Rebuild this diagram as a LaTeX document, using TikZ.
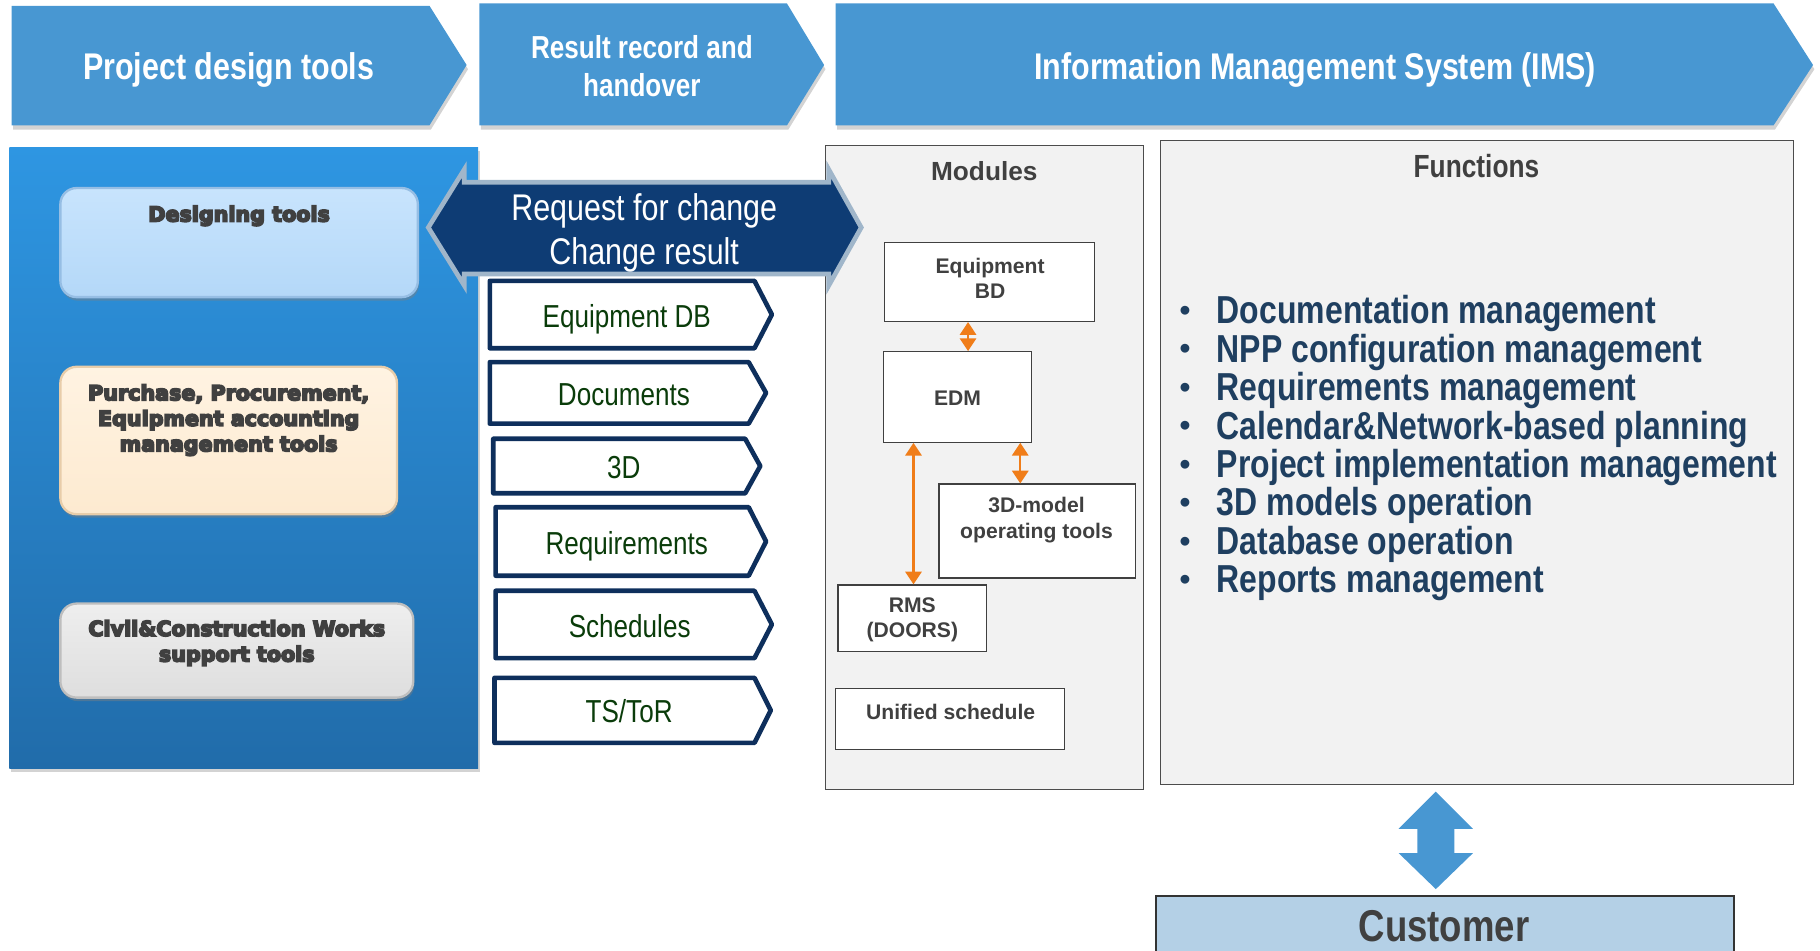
\documentclass[tikz,border=0pt]{standalone}
\usepackage{fontspec}
\setmainfont{Liberation Sans}
\newfontfamily\narrow{Liberation Sans}[FakeStretch=0.82]
\newfontfamily\heavy{DejaVu Sans Bold}[FakeBold=8]
\usetikzlibrary{shadows,arrows.meta,calc,fit}
\definecolor{hdrblue}{RGB}{72,151,210}
\definecolor{pantop}{RGB}{46,150,226}
\definecolor{panbot}{RGB}{33,108,170}
\definecolor{dsgtop}{RGB}{200,228,253}
\definecolor{dsgbot}{RGB}{180,216,248}
\definecolor{dsgedge}{RGB}{150,190,228}
\definecolor{purtop}{RGB}{255,243,226}
\definecolor{purbot}{RGB}{253,234,208}
\definecolor{puredge}{RGB}{232,205,170}
\definecolor{civtop}{RGB}{238,238,238}
\definecolor{civbot}{RGB}{222,222,222}
\definecolor{civedge}{RGB}{190,190,190}
\definecolor{navy}{RGB}{14,60,116}
\definecolor{navyedge}{RGB}{160,182,202}
\definecolor{tagnavy}{RGB}{14,47,92}
\definecolor{taggreen}{RGB}{10,60,10}
\definecolor{txtgray}{RGB}{64,64,64}
\definecolor{panelgray}{RGB}{242,242,242}
\definecolor{orng}{RGB}{240,125,25}
\definecolor{funblue}{RGB}{31,63,96}
\definecolor{custblue}{RGB}{180,208,230}
\begin{document}
\begin{tikzpicture}[x=0.5pt,y=-0.5pt,
  hdr/.style={fill=hdrblue, drop shadow={shadow xshift=0.6pt, shadow yshift=-1.8pt, opacity=0.35}},
  hdrtxt/.style={text=white, align=center, font=\narrow\bfseries\fontsize{16}{19}\selectfont},
  toolbox/.style={inner sep=0pt, rounded corners=7pt, line width=1pt, drop shadow={shadow xshift=0.5pt, shadow yshift=-1.5pt, opacity=0.45}},
  tooltxt/.style={text=txtgray, align=center, font=\heavy\fontsize{8.9}{11}\selectfont},
  dblarr/.style={fill=navy, draw=navyedge, line width=2pt},
  dbltxt/.style={text=white, align=center, font=\narrow\fontsize{16}{19}\selectfont},
  tagbox/.style={draw=tagnavy, fill=white, line width=2pt, line join=round},
  tagtxt/.style={text=taggreen, text height=9.8pt, text depth=0pt, font=\narrow\fontsize{13.7}{16}\selectfont},
  panelbox/.style={inner sep=0pt, fill=panelgray, draw=black!70, line width=0.5pt},
  ptitle/.style={text=txtgray, font=\bfseries\fontsize{11.3}{13}\selectfont},
  ftitle/.style={text=txtgray, font=\narrow\bfseries\fontsize{13.8}{16}\selectfont},
  modbox/.style={inner sep=0pt, fill=white, draw=black!75, line width=0.5pt},
  modtxt/.style={text=txtgray, align=center, font=\bfseries\fontsize{9.1}{11}\selectfont},
  oarr/.style={draw=orng, line width=1pt, {Triangle[width=7pt,length=5.5pt]}-{Triangle[width=7pt,length=5.5pt]}},
  fitem/.style={text=funblue, font=\narrow\bfseries\fontsize{16.8}{19}\selectfont},
  fbul/.style={text=funblue, font=\fontsize{14}{16}\selectfont},
  custtxt/.style={text=txtgray, inner sep=0pt, font=\narrow\bfseries\fontsize{19.2}{22}\selectfont}
]
\useasboundingbox (0,0) rectangle (1568,819);
\clip (0,0) rectangle (1568,819);

% header chevrons
\fill[hdr] (10,5) -- (370,5) -- (402,56) -- (370,108) -- (10,108) -- cycle;
\node[hdrtxt] (h1) at (197,60) {Project design tools};
\fill[hdr] (413,3) -- (678,3) -- (710,56) -- (678,108) -- (413,108) -- cycle;
\node[hdrtxt, font=\narrow\bfseries\fontsize{13.7}{16.5}\selectfont] (h2) at (553,57) {Result record and\\handover};
\fill[hdr] (720,3) -- (1528,3) -- (1562,56) -- (1528,108) -- (720,108) -- cycle;
\node[hdrtxt] (h3) at (1133,60) {Information Management System (IMS)};

% left panel
\node[fit={(8,127) (412,662)}, inner sep=0pt, top color=pantop, bottom color=panbot,
      drop shadow={shadow xshift=0.6pt, shadow yshift=-1.5pt, opacity=0.35}] (panel) {};
\node[toolbox, fit={(52,162) (360,256)}, top color=dsgtop, bottom color=dsgbot, draw=dsgedge] (dsg) {};
\node[tooltxt] (dsgt) at (206,186) {Designing tools};
\node[toolbox, fit={(52,316) (342,443)}, top color=purtop, bottom color=purbot, draw=puredge] (pur) {};
\node[tooltxt] (purt) at (197,362) {Purchase, Procurement,\\Equipment accounting\\management tools};
\node[toolbox, fit={(52,520) (356,601)}, top color=civtop, bottom color=civbot, draw=civedge] (civ) {};
\node[tooltxt] (civt) at (204,554) {Civil\&Construction Works\\support tools};

% tags
\foreach \xa/\xb/\xt/\ya/\yb/\lbl/\nm in {
  422/650/665/242/300/Equipment DB/t1,
  422/645/660/312/365/Documents/t2,
  425/642/655/378/425/3D/t3,
  427/645/660/437/496/Requirements/t4,
  427/650/665/509/567/Schedules/t5,
  426/650/664/584/640/TS\slash ToR/t6} {
  \draw[tagbox] (\xa,\ya) -- (\xb,\ya) -- (\xt,{(\ya+\yb)/2}) -- (\xb,\yb) -- (\xa,\yb) -- cycle;
  \node[tagtxt] (\nm) at ({(\xa+\xb)/2+4},{(\ya+\yb)/2+1}) {\lbl};
}

% modules panel
\node[panelbox, fit={(711,125) (985,680)}] (modp) {};
\node[ptitle] (modt) at (848,147) {Modules};
\node[modbox, fit={(762,209) (943,277)}] (eqbd) {};
\node[modtxt] (eqbdt) at (853,240) {Equipment\\BD};
\node[modbox, fit={(761,303) (889,381)}] (edm) {};
\node[modtxt] (edmt) at (825,343) {EDM};
\node[modbox, fit={(809,417) (978,498)}] (tdm) {};
\node[modtxt] (tdmt) at (893,448) {3D-model\\operating tools};
\node[modbox, fit={(722,504) (850,561)}] (rms) {};
\node[modtxt] (rmst) at (786,534) {RMS\\(DOORS)};
\node[modbox, fit={(720,593) (917,646)}] (usch) {};
\node[modtxt] (uscht) at (819,613) {Unified schedule};

\coordinate (ax1) at (834,0);
\coordinate (ax2) at (879,0);
\coordinate (ax3) at (787,0);
\draw[oarr] (eqbd.south -| ax1) -- (edm.north -| ax1);
\draw[oarr] (edm.south -| ax2) -- (tdm.north -| ax2);
\draw[oarr] (edm.south -| ax3) -- (rms.north -| ax3);

% double arrow (on top of panels)
\draw[dblarr] (369,196) -- (400,146) -- (400,157) -- (714,157) -- (714,146) -- (742,196)
  -- (714,246) -- (714,236) -- (400,236) -- (400,246) -- cycle;
\node[dbltxt] (rfc) at (555,201) {Request for change\\Change result};

% functions panel
\node[panelbox, fit={(1000,121) (1545,676)}] (funp) {};
\node[ftitle] (funt) at (1272,143) {Functions};
\foreach \t [count=\i] in {Documentation management, NPP configuration management,
  Requirements management, Calendar\&Network-based planning,
  Project implementation management, 3D models operation,
  Database operation, Reports management} {
  \node[fitem, anchor=base west, inner sep=0pt] (f\i) at (1048,{279+33.1*(\i-1)}) {\t};
  \node[fbul, anchor=base, inner sep=0pt] (b\i) at (1021,{277+33.1*(\i-1)}) {\textbullet};
}

% blue double arrow
\fill[hdrblue] (1237,682) -- (1269,714) -- (1253,714) -- (1253,735) -- (1269,735) -- (1237,766)
  -- (1205,735) -- (1221,735) -- (1221,714) -- (1205,714) -- cycle;

% customer
\node[fit={(996,772) (1494,845)}, inner sep=0pt, fill=custblue, draw=black!80, line width=0.6pt] (cust) {};
\node[custtxt] (custt) at (1244,798) {Customer};
\end{tikzpicture}
\end{document}
